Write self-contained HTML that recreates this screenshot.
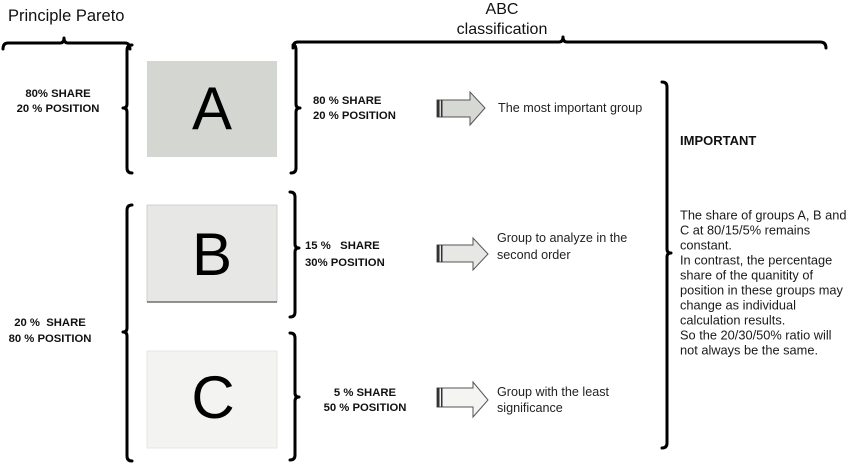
<!DOCTYPE html>
<html><head><meta charset="utf-8"><style>
html,body{margin:0;padding:0;background:#fff;}
svg{display:block;}
text{font-family:"Liberation Sans",Arial,sans-serif;fill:#111;white-space:pre;}
.b{font-weight:bold;font-size:11.3px;}
.n{font-size:12.6px;fill:#222;}
.p{font-size:12.8px;fill:#1a1a1a;}
.big{font-size:60px;fill:#000;}
.br{fill:none;stroke:#000;stroke-width:3;stroke-linecap:round;stroke-linejoin:round;}
</style></head><body>
<svg width="847" height="463" viewBox="0 0 847 463" xmlns="http://www.w3.org/2000/svg">
<!-- boxes -->
<rect x="147" y="61" width="130" height="96" fill="#d3d6d1"/>
<rect x="147" y="205" width="130" height="97" fill="#e7e8e5" stroke="#c9cac7" stroke-width="0.8"/>
<line x1="147" y1="302" x2="277" y2="302" stroke="#555" stroke-width="1.2"/>
<rect x="147" y="351" width="130" height="97" fill="#f3f3f1" stroke="#e2e2e0" stroke-width="0.8"/>
<text class="big" x="212" y="129" text-anchor="middle">A</text>
<text class="big" x="212" y="275" text-anchor="middle">B</text>
<text class="big" x="213" y="418" text-anchor="middle">C</text>

<!-- horizontal top braces -->
<path class="br" d="M3,49 Q3,43 8,43 L60,43 Q64,43 64,38 Q64,43 68,43 L125,43 Q130,43 130,49"/>
<path class="br" d="M293,48 Q293,42 298,42 L559,42 Q563,42 563,37 Q563,42 567,42 L820,42 Q826,42 826,48"/>

<!-- left braces "{" -->
<path class="br" d="M132,45 Q127,45 127,50 L127,104 Q127,108 123,108 Q127,108 127,112 L127,168 Q127,173 132,173"/>
<path class="br" d="M132,205 Q127,205 127,210 L127,328 Q127,332 123,332 Q127,332 127,336 L127,456 Q127,461 132,461"/>

<!-- right braces "}" -->
<path class="br" d="M293,45 Q296,45 296,50 L296,104 Q296,108 300,108 Q296,108 296,112 L296,168 Q296,173 291,173"/>
<path class="br" d="M290,192 Q295,192 295,197 L295,244 Q295,248 299,248 Q295,248 295,252 L295,312 Q295,317 290,317"/>
<path class="br" d="M290,333 Q295,333 295,338 L295,393 Q295,397 299,397 Q295,397 295,401 L295,455 Q295,460 290,460"/>
<path class="br" d="M662,82 Q667,82 667,87 L667,249 Q667,253 671,253 Q667,253 667,257 L667,443 Q667,448 662,448"/>

<!-- arrows -->
<polygon points="437,100 470,100 470,92 485,108 470,125 470,117 437,117" fill="#d5d8d3" stroke="#555" stroke-width="1"/>
<rect x="437" y="100" width="2.5" height="17" fill="#333"/><rect x="441" y="100" width="1.5" height="17" fill="#333"/>
<polygon points="437,245 473,245 473,238 488,254 473,270 473,262 437,262" fill="#e7e8e5" stroke="#555" stroke-width="1"/>
<rect x="437" y="245" width="2.5" height="17" fill="#333"/><rect x="441" y="245" width="1.5" height="17" fill="#333"/>
<polygon points="437,388 473,388 473,382 488,400 473,417 473,407 437,407" fill="#f4f4f3" stroke="#555" stroke-width="1"/>
<rect x="437" y="388" width="2.5" height="19" fill="#333"/><rect x="441" y="388" width="1.5" height="19" fill="#333"/>

<!-- titles -->
<text x="8" y="21" style="font-size:16.5px">Principle Pareto</text>
<text x="502" y="14" text-anchor="middle" style="font-size:16px">ABC</text>
<text x="502" y="34" text-anchor="middle" style="font-size:16px">classification</text>

<!-- left labels -->
<text class="b" x="58" y="97" text-anchor="middle">80% SHARE</text>
<text class="b" x="58" y="112" text-anchor="middle">20 % POSITION</text>
<text class="b" x="50" y="326" text-anchor="middle">20 %  SHARE</text>
<text class="b" x="50" y="342" text-anchor="middle">80 % POSITION</text>

<!-- abc labels -->
<text class="b" x="313" y="104">80 % SHARE</text>
<text class="b" x="313" y="119">20 % POSITION</text>
<text class="b" x="305" y="249">15 %   SHARE</text>
<text class="b" x="305" y="266">30% POSITION</text>
<text class="b" x="365" y="396" text-anchor="middle">5 % SHARE</text>
<text class="b" x="365" y="411" text-anchor="middle">50 % POSITION</text>

<!-- arrow texts -->
<text class="n" x="498" y="112">The most important group</text>
<text class="n" x="497" y="242">Group to analyze in the</text>
<text class="n" x="497" y="259">second order</text>
<text class="n" x="497" y="396">Group with the least</text>
<text class="n" x="497" y="412">significance</text>

<!-- important -->
<text x="680" y="145" style="font-size:13px;font-weight:bold">IMPORTANT</text>
<text class="p" x="680" y="219.5">The share of groups A, B and</text>
<text class="p" x="680" y="234.5">C at 80/15/5% remains</text>
<text class="p" x="680" y="249.5">constant.</text>
<text class="p" x="680" y="264.5">In contrast, the percentage</text>
<text class="p" x="680" y="279.5">share of the quanitity of</text>
<text class="p" x="680" y="294.5">position in these groups may</text>
<text class="p" x="680" y="309.5">change as individual</text>
<text class="p" x="680" y="324.5">calculation results.</text>
<text class="p" x="680" y="339.5">So the 20/30/50% ratio will</text>
<text class="p" x="680" y="354.5">not always be the same.</text>
</svg>
</body></html>
